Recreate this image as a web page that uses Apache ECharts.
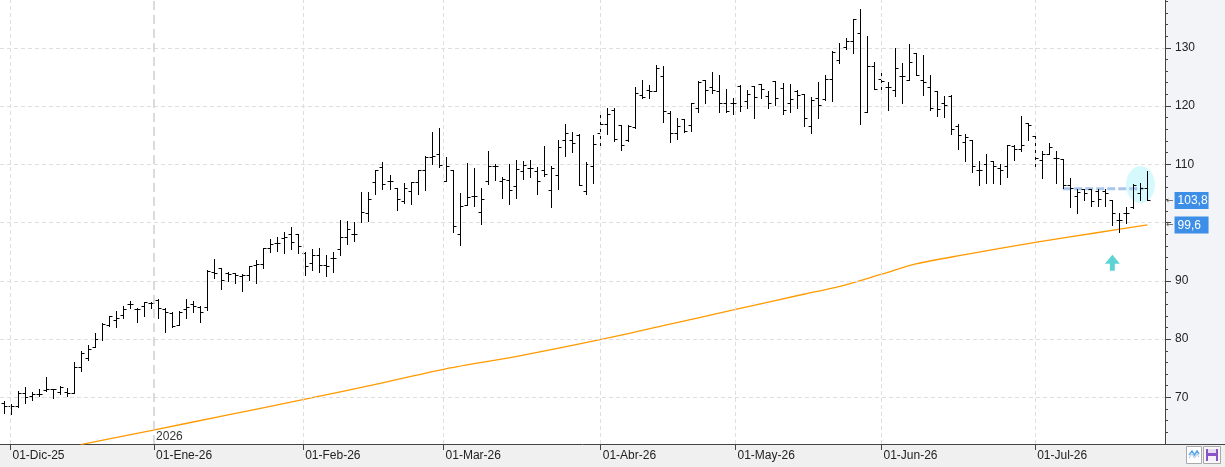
<!DOCTYPE html>
<html>
<head>
<meta charset="utf-8">
<title>OHLC diario</title>
<script src="https://cdn.jsdelivr.net/npm/echarts@6.0.0/dist/echarts.min.js"></script>
<style>
  html, body { margin: 0; padding: 0; background: #fff; }
  #chart { width: 1225px; height: 467px; }
</style>
</head>
<body>
<div id="chart"></div>
<script>
// one bar per session, index 0 = last session of Nov-25
const opens = [
  69.0, 68.6, 68.5, 70.7, 70.3, 70.6, 71.3, 71.4, 71.0, 71.0,
  70.7, 75.3, 76.8, 78.6, 80.0, 82.4, 83.3, 84.2, 86.0, 85.1,
  85.6, 86.2, 86.7, 85.1, 84.4, 82.5, 85.1, 86.0, 85.5, 85.5,
  91.5, 92.2, 91.4, 91.3, 90.8, 91.0, 92.8, 92.9, 95.7, 96.5,
  97.4, 98.0, 98.0, 94.8, 93.0, 94.5, 92.8, 93.9, 95.4, 97.6,
  98.1, 100.1, 101.7, 107.0, 109.6, 107.2, 106.0, 103.7, 105.5, 107.0,
  109.1, 111.3, 111.7, 107.2, 109.0, 98.1, 103.1, 104.5, 101.8, 107.1,
  109.7, 107.1, 107.3, 106.2, 108.9, 109.3, 108.9, 109.0, 105.6, 108.2,
  114.1, 114.1, 115.1, 105.5, 109.7, 115.3, 117.0, 119.4, 116.7, 114.1,
  116.4, 121.9, 122.7, 122.5, 125.2, 118.8, 115.4, 117.7, 116.8, 119.6,
  124.5, 123.2, 122.6, 120.5, 120.5, 123.4, 120.9, 123.4, 123.8, 121.8,
  124.3, 123.1, 120.6, 122.5, 122.1, 116.6, 121.3, 121.2, 124.7, 127.9,
  130.2, 131.2, 132.5, 119.0, 126.9, 124.6, 123.3, 122.8, 125.1, 124.5,
  129.1, 124.5, 123.3, 122.6, 120.5, 121.8, 116.6, 113.9, 114.1, 109.1,
  110.1, 110.5, 109.3, 109.7, 113.1, 112.6, 117.1, 114.8, 110.8, 111.8,
  111.0, 110.9, 106.5, 104.5, 105.7, 105.7, 105.4, 105.5, 103.8, 100.4,
  101.6, 102.7, 105.0, 106.0
];
const highs = [
  69.3, 68.9, 71.1, 71.7, 70.9, 71.4, 73.5, 71.5, 72.0, 71.6,
  76.1, 78.0, 79.0, 81.1, 82.7, 84.0, 84.9, 85.7, 86.6, 85.4,
  86.3, 86.3, 86.9, 85.3, 84.6, 84.9, 86.9, 86.6, 85.7, 91.8,
  93.7, 92.2, 91.5, 91.4, 91.1, 92.6, 93.5, 95.7, 97.2, 97.5,
  98.3, 99.2, 98.0, 94.9, 95.5, 95.6, 94.4, 94.9, 100.5, 100.3,
  100.1, 105.2, 105.2, 109.0, 110.4, 108.1, 106.0, 106.8, 107.0, 109.1,
  111.4, 115.6, 116.3, 111.2, 109.1, 105.0, 110.3, 109.3, 106.0, 112.3,
  110.1, 107.8, 110.0, 110.8, 110.5, 110.8, 109.5, 113.2, 109.7, 114.2,
  117.0, 115.5, 115.2, 110.4, 115.1, 118.7, 119.6, 119.6, 116.7, 116.7,
  123.3, 124.4, 123.6, 127.0, 126.9, 119.1, 118.0, 117.7, 120.5, 124.3,
  124.5, 125.8, 125.3, 123.0, 121.4, 123.6, 122.8, 123.5, 123.8, 122.6,
  124.3, 123.9, 123.7, 122.8, 122.1, 121.6, 124.2, 125.4, 129.4, 130.9,
  131.7, 135.0, 136.6, 132.0, 127.6, 126.4, 124.2, 129.9, 127.4, 130.7,
  129.1, 128.7, 125.4, 122.6, 121.8, 121.9, 116.9, 115.2, 114.1, 110.6,
  111.7, 110.6, 110.0, 113.4, 113.3, 118.3, 117.1, 115.6, 112.2, 113.7,
  112.3, 110.9, 107.7, 105.7, 105.7, 105.7, 105.7, 105.7, 103.9, 101.6,
  102.6, 106.6, 106.8, 108.8
];
const lows = [
  67.4, 67.1, 68.4, 69.1, 69.5, 70.2, 71.1, 69.9, 70.5, 70.2,
  70.7, 74.6, 76.4, 78.6, 79.9, 82.3, 82.1, 83.7, 85.3, 83.0,
  83.9, 85.3, 83.7, 81.3, 82.1, 82.5, 83.7, 84.6, 82.9, 85.0,
  90.5, 88.6, 89.9, 89.6, 88.2, 90.1, 89.6, 92.2, 94.9, 95.2,
  94.8, 95.5, 94.7, 91.0, 91.9, 91.5, 90.9, 91.5, 94.5, 96.3,
  96.8, 100.1, 100.2, 104.9, 105.8, 105.7, 102.2, 103.4, 103.2, 104.9,
  105.6, 110.1, 109.5, 107.1, 98.4, 96.2, 103.1, 102.9, 99.7, 106.7,
  107.3, 104.2, 103.2, 104.2, 107.5, 107.9, 104.9, 108.0, 102.7, 105.8,
  111.4, 112.1, 106.5, 104.9, 106.8, 113.3, 115.2, 114.0, 112.4, 114.0,
  116.3, 121.3, 121.3, 122.5, 117.3, 113.9, 114.4, 115.6, 115.7, 118.9,
  120.5, 122.2, 119.0, 119.0, 118.7, 119.1, 119.7, 117.9, 121.3, 119.7,
  120.2, 118.7, 118.9, 119.7, 116.5, 115.3, 117.9, 121.1, 120.8, 127.4,
  129.8, 129.1, 116.9, 118.9, 122.9, 122.6, 119.3, 121.7, 120.5, 124.5,
  125.4, 121.9, 119.4, 118.3, 118.2, 115.2, 112.6, 110.6, 108.7, 106.4,
  106.8, 106.8, 106.6, 107.9, 110.7, 112.2, 114.2, 109.3, 107.7, 111.7,
  106.8, 106.0, 102.6, 101.6, 103.8, 102.8, 102.8, 102.8, 99.5, 98.4,
  100.0, 102.5, 103.9, 103.8
];
const closes = [
  68.6, 68.5, 70.7, 70.1, 70.6, 70.6, 71.4, 71.5, 71.7, 70.7,
  75.3, 77.7, 78.3, 80.0, 82.6, 83.9, 83.6, 85.1, 86.1, 85.1,
  86.3, 86.2, 85.3, 84.6, 82.3, 84.6, 85.5, 85.7, 84.6, 91.7,
  91.3, 90.2, 91.2, 91.0, 91.0, 92.6, 92.9, 95.7, 96.4, 96.5,
  97.6, 96.6, 96.0, 92.6, 94.5, 92.7, 92.6, 93.9, 97.6, 98.9,
  98.1, 101.8, 104.1, 109.0, 106.6, 107.1, 104.1, 106.0, 107.0, 109.1,
  111.3, 111.4, 109.8, 109.7, 99.4, 102.9, 104.4, 104.5, 104.0, 109.7,
  109.7, 107.4, 105.6, 109.2, 109.9, 109.3, 107.2, 108.3, 109.4, 112.9,
  115.4, 113.7, 106.5, 110.0, 113.5, 117.0, 118.7, 114.4, 113.4, 116.6,
  122.3, 121.6, 122.6, 126.5, 119.1, 115.4, 116.6, 115.7, 120.5, 124.2,
  122.8, 122.8, 120.6, 119.2, 120.6, 120.0, 122.1, 121.5, 122.9, 120.5,
  121.3, 119.3, 121.2, 121.9, 117.9, 121.0, 120.1, 124.7, 129.3, 129.9,
  131.1, 135.0, 120.0, 126.9, 122.9, 124.3, 123.2, 126.6, 125.1, 127.6,
  125.4, 124.2, 119.7, 119.5, 120.1, 116.0, 115.0, 114.7, 109.7, 109.1,
  110.1, 109.7, 109.0, 113.4, 112.6, 113.3, 116.7, 111.0, 111.8, 113.0,
  111.0, 106.5, 106.0, 105.2, 105.1, 103.7, 104.1, 105.1, 101.6, 100.4,
  101.6, 106.4, 106.0, 103.8
];

// moving average read at some sessions: [bar index, value]
const maPoints = [
  [11, 61.9], [21, 64.3], [32, 67.0], [43, 69.7], [54, 72.5], [63, 74.9],
  [73, 77.0], [85, 79.9], [94, 82.3], [104, 85.0], [114, 87.7], [119, 89.0],
  [125, 91.1], [130, 92.9], [137, 94.5], [147, 96.6], [156, 98.3], [163, 99.6]
];

const monthTickPos = [1, 21.45, 42.7, 62.7, 85.1, 104.3, 125.1, 147.0];
const monthLabels = ['01-Dic-25', '01-Ene-26', '01-Feb-26', '01-Mar-26',
  '01-Abr-26', '01-May-26', '01-Jun-26', '01-Jul-26'];
const yearPos = 21.45;
const yearLabel = '2026';
const priceTicks = [70, 80, 90, 100, 110, 120, 130];
const lastClose = 103.8;
const lastMa = 99.6;
const resistance = [[151, 105.8], [162.4, 105.8]];
const highlightPoint = [162, 106.5];
const signalPoint = [158, 93.1];

const minorTicks = [];
for (let v = 62; v <= 138; v += 2) minorTicks.push(v);

const fmtNum = v => String(v).replace('.', ',');
const bars = opens.map((o, i) => [i, o, highs[i], lows[i], closes[i]]);

function renderBar(params, api) {
  const i = api.value(0);
  const top = api.coord([i, api.value(2)]);
  const bottom = api.coord([i, api.value(3)]);
  const op = api.coord([i, api.value(1)]);
  const cl = api.coord([i, api.value(4)]);
  const x = Math.round(top[0]) + 0.5;
  const yo = Math.round(op[1]) + 0.5;
  const yc = Math.round(cl[1]) + 0.5;
  return {
    type: 'group',
    children: [
      { type: 'line', shape: { x1: x, y1: Math.round(top[1]), x2: x, y2: Math.round(bottom[1]) + 1 },
        style: { stroke: '#000', lineWidth: 1 } },
      { type: 'line', shape: { x1: x - 3, y1: yo, x2: x, y2: yo },
        style: { stroke: '#000', lineWidth: 1 } },
      { type: 'line', shape: { x1: x, y1: yc, x2: x + 3, y2: yc },
        style: { stroke: '#000', lineWidth: 1 } }
    ]
  };
}

function priceLabel(value) {
  return {
    silent: true,
    symbol: 'none',
    lineStyle: { color: 'rgba(0,0,0,0)', width: 1 },
    data: [{ yAxis: value }],
    label: {
      show: true,
      position: 'end',
      distance: 1,
      formatter: '{a|←}{b|' + fmtNum(value) + '}',
      rich: {
        a: { fontSize: 9, color: '#555', fontFamily: 'DejaVu Sans', padding: [0, 1, 0, 0] },
        b: { fontSize: 12, color: '#fff', backgroundColor: '#3d8ee6', width: 29,
             padding: [3, 2, 2, 3], fontFamily: 'Liberation Sans' }
      }
    }
  };
}

const gridLine = { color: '#dedede', type: [4, 3], width: 1 };
const axisLineStyle = { show: true, onZero: false, lineStyle: { color: '#444', width: 1 } };

const chart = echarts.init(document.getElementById('chart'));
chart.setOption({
  animation: false,
  backgroundColor: '#fff',
  textStyle: { fontFamily: 'Liberation Sans, Arial, sans-serif' },
  grid: { left: 0, right: 60, top: 0, bottom: 23, containLabel: false, outerBoundsMode: 'none' },
  xAxis: {
    type: 'value',
    min: -0.5,
    max: 165.5,
    axisLine: axisLineStyle,
    axisTick: { show: true, customValues: monthTickPos, length: 6, lineStyle: { color: '#444' } },
    axisLabel: {
      customValues: monthTickPos,
      align: 'left',
      margin: 6,
      padding: [0, 0, 0, 2],
      fontSize: 12,
      color: '#222',
      formatter: v => monthLabels[monthTickPos.indexOf(v)]
    },
    splitLine: { show: false }
  },
  yAxis: [
    {
      type: 'value', position: 'right', min: 62, max: 138.2,
      axisLine: axisLineStyle,
      axisTick: { show: true, customValues: minorTicks, length: 3, lineStyle: { color: '#444' } },
      axisLabel: { show: false },
      splitLine: { show: false }
    },
    {
      type: 'value', position: 'right', min: 62, max: 138.2,
      axisLine: { show: false, onZero: false },
      axisTick: { show: true, customValues: priceTicks, length: 6, lineStyle: { color: '#444' } },
      axisLabel: { customValues: priceTicks, margin: 10, fontSize: 12, color: '#222' },
      splitLine: { show: false }
    }
  ],
  graphic: [
    { type: 'rect', z: -10, shape: { x: 1165, y: 0, width: 60, height: 444 }, style: { fill: '#f3f4f7' } },
    { type: 'rect', z: -10, shape: { x: 0, y: 444, width: 1225, height: 23 }, style: { fill: '#f0f0f0' } },
    { type: 'line', z: 10, shape: { x1: 1165, y1: 444.5, x2: 1225, y2: 444.5 }, style: { stroke: '#444', lineWidth: 1 } },
    { type: 'rect', z: 10, shape: { x: 1186.5, y: 446.5, width: 15, height: 17 }, style: { fill: '#fff', stroke: '#aaa' } },
    { type: 'polyline', z: 11, shape: { points: [[1189, 455], [1192, 451], [1194.5, 455], [1197, 451], [1199, 454]] },
      style: { stroke: '#5aa6e6', lineWidth: 1.5, fill: null } },
    { type: 'polyline', z: 11, shape: { points: [[1189, 458], [1192, 454], [1194.5, 458], [1197, 454], [1199, 457]] },
      style: { stroke: '#a8c8e8', lineWidth: 1, fill: null } },
    { type: 'rect', z: 10, shape: { x: 1203.5, y: 446.5, width: 17, height: 17 }, style: { fill: '#f7f7f7', stroke: '#aaa' } },
    { type: 'rect', z: 11, shape: { x: 1206, y: 449, width: 12, height: 12 }, style: { fill: '#8b54c6' } },
    { type: 'rect', z: 12, shape: { x: 1208, y: 449, width: 8, height: 4 }, style: { fill: '#e8dcf5' } },
    { type: 'rect', z: 12, shape: { x: 1208, y: 456, width: 8, height: 5 }, style: { fill: '#f5f0fb' } }
  ],
  series: [
    {
      name: 'marco',
      type: 'scatter',
      z: 1,
      silent: true,
      symbol: 'circle',
      symbolSize: [29, 37],
      itemStyle: { color: 'rgba(170, 242, 250, 0.6)' },
      data: [highlightPoint],
      markLine: {
        silent: true,
        symbol: 'none',
        label: { show: false },
        lineStyle: gridLine,
        data: priceTicks.map(v => ({ yAxis: v }))
          .concat(monthTickPos.filter(p => p !== yearPos).map(p => ({ xAxis: p })))
          .concat([{ xAxis: yearPos, lineStyle: { color: '#cfcfcf', type: [9, 5], width: 1.5 } }])
      },
      markPoint: {
        silent: true,
        symbol: 'circle',
        symbolSize: 0,
        data: [{ coord: [yearPos, 62] }],
        label: {
          show: true, position: 'right', distance: 2, offset: [0, -7],
          formatter: yearLabel, fontSize: 12, color: '#333'
        }
      }
    },
    {
      name: 'media',
      type: 'line',
      z: 2,
      silent: true,
      smooth: 0.3,
      symbol: 'none',
      lineStyle: { color: '#ff9a00', width: 1.3 },
      data: maPoints,
      markLine: priceLabel(lastMa)
    },
    {
      name: 'resistencia',
      type: 'line',
      z: 2,
      silent: true,
      symbol: 'none',
      lineStyle: { color: '#a9c6ec', width: 3, type: [8, 3] },
      data: resistance,
      markLine: priceLabel(lastClose)
    },
    {
      name: 'precio',
      type: 'custom',
      z: 3,
      silent: true,
      renderItem: renderBar,
      encode: { x: 0, y: [1, 2, 3, 4] },
      data: bars
    },
    {
      name: 'senal',
      type: 'scatter',
      z: 4,
      silent: true,
      symbol: 'path://M7.5,0L15,9L10,9L10,16L5,16L5,9L0,9Z',
      symbolSize: [15, 16],
      symbolKeepAspect: false,
      itemStyle: { color: '#35c9c9' },
      data: [signalPoint]
    }
  ]
});
</script>
</body>
</html>
